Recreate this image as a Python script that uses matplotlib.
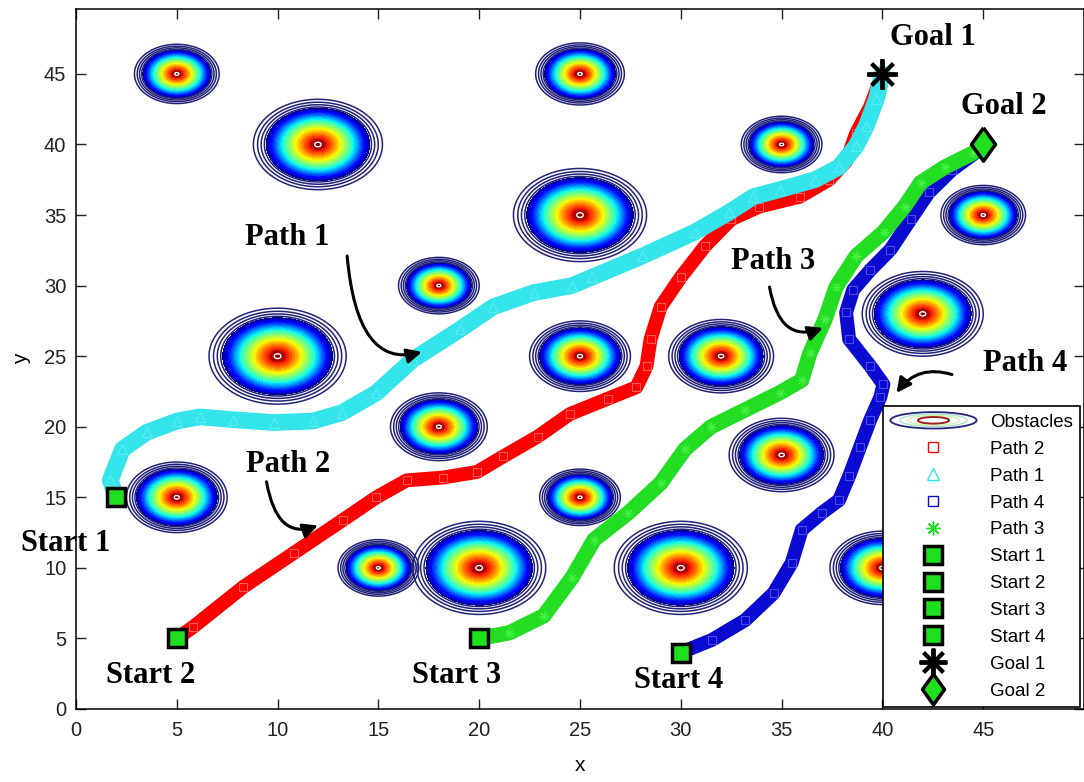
import numpy as np
import matplotlib
matplotlib.use("Agg")
import matplotlib.pyplot as plt
from matplotlib.patches import Ellipse
from matplotlib.lines import Line2D
from matplotlib.legend_handler import HandlerBase

plt.rcParams['font.family'] = ['Liberation Sans', 'DejaVu Sans']

# obstacles: centre and radius
obs_x = [5, 12, 25, 35, 25, 45, 18, 10, 25, 32, 42, 18, 35, 5, 25, 15, 20, 30, 40]
obs_y = [45, 40, 45, 40, 35, 35, 30, 25, 25, 25, 28, 20, 18, 15, 15, 10, 10, 10, 10]
obs_r = [2.1, 3.2, 2.2, 2.0, 3.3, 2.1, 2.0, 3.4, 2.5, 2.6, 3.0, 2.4, 2.6, 2.5, 2.0, 2.0, 3.3, 3.3, 2.6]

# paths
p1x = [2, 1.7, 2.3, 3.5, 5.0, 6.15, 7.8, 9.8, 11.75, 13.2, 14.9, 16.7, 19.05, 20.7,
       22.7, 24.6, 25.6, 28.1, 30.7, 32.4, 33.6, 34.9, 36.65, 37.85, 38.7, 39.2, 39.7, 40]
p1y = [15, 16.2, 18.4, 19.6, 20.4, 20.7, 20.5, 20.3, 20.4, 21.0, 22.4, 24.75, 26.9, 28.5,
       29.5, 30.0, 30.6, 32.1, 33.8, 35.2, 36.3, 36.8, 37.5, 38.4, 39.9, 41.3, 43.2, 45]

p2x = [5, 5.8, 8.3, 10.8, 13.25, 14.9, 16.4, 18.2, 19.9, 21.2, 22.9, 24.5, 26.4, 27.8,
       28.3, 28.5, 29.0, 30.0, 31.2, 32.5, 33.9, 35.9, 37.35, 38.2, 38.7, 39.4, 40]
p2y = [5, 5.8, 8.65, 11.05, 13.4, 15.0, 16.2, 16.4, 16.8, 17.9, 19.3, 20.9, 22.0, 22.8,
       24.3, 26.2, 28.5, 30.6, 32.8, 34.7, 35.6, 36.3, 37.5, 38.8, 40.8, 42.7, 45]

p3x = [20, 21.5, 23.2, 24.6, 25.7, 27.4, 29.0, 30.2, 31.5, 33.2, 34.9, 36.0, 36.4, 37.15,
       37.7, 38.7, 40.06, 41.1, 41.9, 43.1, 44.5, 45]
p3y = [5, 5.4, 6.6, 9.3, 12.0, 13.9, 16.0, 18.4, 20.0, 21.2, 22.4, 23.3, 25.2, 27.6,
       29.9, 32.1, 33.8, 35.6, 37.3, 38.4, 39.4, 40]

p4x = [30, 31.55, 33.2, 34.6, 35.5, 36.0, 37.0, 37.85, 38.35, 38.9, 39.4, 39.9, 40.05,
       39.4, 38.35, 38.2, 38.55, 39.4, 40.4, 41.4, 42.3, 43.45, 44.6, 45]
p4y = [4, 4.9, 6.3, 8.2, 10.35, 12.7, 13.9, 14.8, 16.5, 18.6, 20.5, 22.1, 23.0,
       24.3, 26.2, 28.1, 29.7, 31.1, 32.55, 34.7, 36.6, 38.2, 39.4, 40]

start_x = [2, 5, 20, 30]
start_y = [15, 5, 5, 4]
goal_x = [40, 45]
goal_y = [45, 40]

labels = ["Goal 1", "Goal 2", "Path 1", "Path 3", "Path 4", "Path 2",
          "Start 1", "Start 2", "Start 3", "Start 4"]
label_x = [42.5, 46.0, 10.5, 34.6, 47.1, 10.5, -0.5, 3.7, 18.9, 29.9]
label_y = [47.6, 42.7, 33.4, 31.7, 24.5, 17.3, 11.7, 2.35, 2.35, 2.0]

# arrows: (tail x, tail y, head x, head y, connection)
arrows = [(13.45, 32.1, 17.15, 25.3, "angle3,angleA=95,angleB=15"),
          (9.45, 16.1, 12.0, 13.0, "angle3,angleA=100,angleB=20"),
          (34.4, 29.9, 37.05, 27.0, "angle3,angleA=100,angleB=20"),
          (43.45, 23.7, 40.7, 22.4, "arc3,rad=0.35")]

GREEN = '#1ee01e'
NAVY = '#23237a'
ast = (8, 2, 0)

fig = plt.figure(figsize=(10.84, 7.82), dpi=100)
ax = fig.add_axes([76 / 1084, 73 / 782, 1008 / 1084, 700 / 782])

g = np.linspace(-1.05, 1.05, 181)
U, V = np.meshgrid(g, g)
rho = np.hypot(U, V)
T = 1 - np.clip(rho / 0.8, 0, 2) ** 1.2
for cx, cy, r in zip(obs_x, obs_y, obs_r):
    X = cx + r * U
    Y = cy + r * V
    ax.contourf(X, Y, T, levels=np.linspace(0, 1, 41), cmap='jet', zorder=1)
    ax.contour(X, Y, rho, levels=[0.83, 0.88, 0.935, 1.0], colors=NAVY,
               linewidths=1.1, zorder=2)
    ax.contour(X, Y, rho, levels=[0.05, 0.1], colors=['white', '#8a1515'],
               linewidths=1.0, zorder=2)

kw = dict(solid_capstyle='round', solid_joinstyle='round')
ax.plot(p2x, p2y, color='red', lw=10, zorder=3, **kw)
ax.plot(p2x, p2y, 's', mfc='none', mec='#ff5a5a', ms=6, mew=0.8, zorder=3)
ax.plot(p1x, p1y, color='#33e4ea', lw=12, zorder=4, **kw)
ax.plot(p1x, p1y, '^', mfc='none', mec='#5aecf0', ms=7, mew=0.8, zorder=4)
ax.plot(p4x, p4y, color='#0a0ad0', lw=10, zorder=5, **kw)
ax.plot(p4x, p4y, 's', mfc='none', mec='#4a4af0', ms=6, mew=0.8, zorder=5)
ax.plot(p3x, p3y, color='#22dd22', lw=11, zorder=6, **kw)
ax.plot(p3x, p3y, marker=ast, ls='none', mec='#44f044', ms=7, mew=0.8, zorder=6)

ax.plot(start_x, start_y, 's', mfc=GREEN, mec='black', ms=13, mew=2.5, ls='none', zorder=8)
ax.plot(goal_x[0], goal_y[0], marker=ast, mec='black', ms=22, mew=2.8, zorder=8)
diamond = [(0, 1), (0.72, 0), (0, -1), (-0.72, 0), (0, 1)]
ax.plot(goal_x[1], goal_y[1], marker=diamond, mfc=GREEN, mec='black', ms=24, mew=2.5, zorder=8)

for t, tx, ty in zip(labels, label_x, label_y):
    ax.text(tx, ty, t, ha='center', va='center', fontsize=22, fontweight='bold',
            family=['Liberation Serif', 'DejaVu Serif'], zorder=9)

for x0, y0, x1, y1, cs in arrows:
    ax.annotate('', xy=(x1, y1), xytext=(x0, y0),
                arrowprops=dict(arrowstyle='-|>', connectionstyle=cs, color='black',
                                lw=2.2, mutation_scale=22, shrinkA=0, shrinkB=0),
                zorder=9)

ax.set_xlim(0, 50)
ax.set_ylim(0, 49.6)
ax.set_xticks(np.arange(0, 50, 5))
ax.set_yticks(np.arange(0, 50, 5))
ax.tick_params(direction='in', top=True, right=True, length=7, width=1,
               labelsize=14.5, colors='#222222')
ax.tick_params(axis='x', pad=9)
ax.tick_params(axis='y', pad=7)
for s in ax.spines.values():
    s.set_linewidth(1.1)
ax.set_xlabel('x', fontsize=15, labelpad=11)
ax.set_ylabel('y', fontsize=15, labelpad=9)


class ObstacleIcon:
    pass


class ObstacleHandler(HandlerBase):
    def create_artists(self, legend, orig_handle, xdescent, ydescent, width, height,
                       fontsize, trans):
        cx = width / 2 - xdescent
        cy = height / 2 - ydescent
        arts = []
        rings = [(1.0, 1.25, NAVY, 1.3), (0.78, 0.95, '#a8e6d0', 1.0),
                 (0.6, 0.75, '#d6efb0', 1.0), (0.36, 0.5, '#a02020', 1.4)]
        for fw, fh, col, lw in rings:
            arts.append(Ellipse((cx, cy), width * fw, height * fh, fill=False,
                                edgecolor=col, lw=lw, transform=trans))
        return arts


icon = ObstacleIcon()
handles = [
    icon,
    Line2D([], [], ls='none', marker='s', mfc='none', mec='red', ms=7),
    Line2D([], [], ls='none', marker='^', mfc='none', mec='#2ee6ea', ms=8),
    Line2D([], [], ls='none', marker='s', mfc='none', mec='#0a0ad0', ms=7),
    Line2D([], [], ls='none', marker=ast, mec='#22dd22', ms=10),
]
for i in range(4):
    handles.append(Line2D([], [], ls='none', marker='s', mfc=GREEN, mec='black', ms=13, mew=2.5))
handles.append(Line2D([], [], ls='none', marker=ast, mec='black', ms=20, mew=2.8))
handles.append(Line2D([], [], ls='none', marker=diamond, mfc=GREEN, mec='black', ms=22, mew=2.5))
names = ['Obstacles', 'Path 2', 'Path 1', 'Path 4', 'Path 3',
         'Start 1', 'Start 2', 'Start 3', 'Start 4', 'Goal 1', 'Goal 2']
leg = ax.legend(handles, names, handler_map={icon: ObstacleHandler()},
                loc='lower right', bbox_to_anchor=(0.998, 0.0), fontsize=13.5,
                labelspacing=0.52, handlelength=4.6, handletextpad=0.7,
                borderpad=0.4, borderaxespad=0.1, fancybox=False, framealpha=1,
                edgecolor='black')
leg.get_frame().set_linewidth(1.2)
leg.set_zorder(20)

fig.savefig('out.png', dpi=100)
